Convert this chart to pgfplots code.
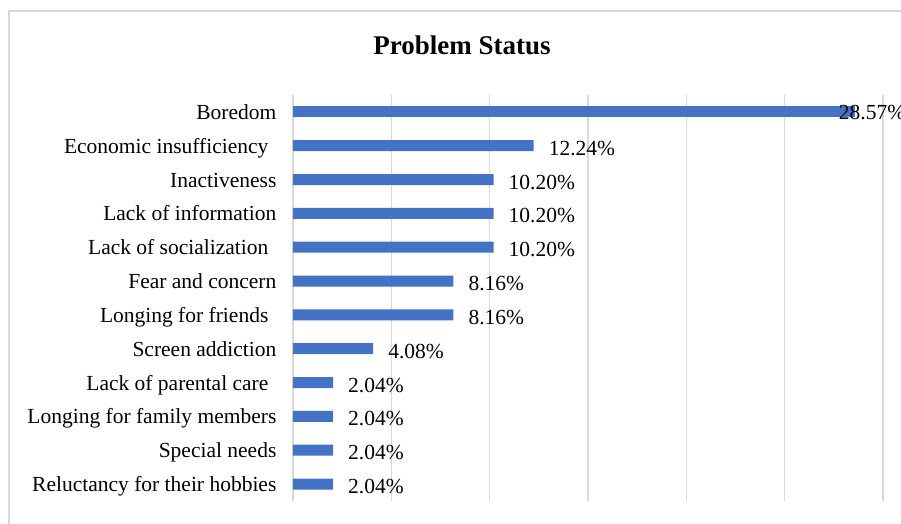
\documentclass[border=0pt]{standalone}
\usepackage{pgfplots}
\pgfplotsset{compat=1.18}
\usepackage{pgfplotstable}
\usepackage{fontspec}
\setmainfont{Liberation Serif}
\definecolor{barblue}{HTML}{4472C4}
\definecolor{gridgray}{HTML}{D9D9D9}
\pgfplotstableread{
x y lab
12.24 1 12.24\%
10.20 2 10.20\%
10.20 3 10.20\%
10.20 4 10.20\%
8.16 5 8.16\%
8.16 6 8.16\%
4.08 7 4.08\%
2.04 8 2.04\%
2.04 9 2.04\%
2.04 10 2.04\%
2.04 11 2.04\%
}\restdata
\pgfplotstableread{
x y lab
28.57 0 28.57\%
}\topdata
\newcommand{\tsp}{\hspace*{4pt}\hbox{}}
\begin{document}
\begin{tikzpicture}[x=0.5pt,y=0.5pt]
\useasboundingbox (0,0) rectangle (901,524);
\draw[gridgray, line width=0.75pt] (9,0) -- (9,513) -- (901,513);
\node[font=\bfseries\fontsize{13.5}{16}\selectfont] at (462,479) {Problem Status};
\begin{axis}[
  at={(146.5pt,11.5pt)}, anchor=south west,
  scale only axis, width=295pt, height=203pt,
  xbar, bar width=5.5pt, bar shift=0pt,
  xmin=0, xmax=30, ymin=-0.5, ymax=11.5, y dir=reverse,
  axis line style={draw=none}, tick style={draw=none},
  xmajorgrids, grid style={gridgray, line width=0.75pt},
  xtick={0,5,...,30}, xticklabels={},
  ytick={0,...,11},
  yticklabels={Boredom, Economic insufficiency\tsp, Inactiveness, Lack of information, Lack of socialization\tsp, Fear and concern, Longing for friends\tsp, Screen addiction, Lack of parental care\tsp, Longing for family members, Special needs, Reluctancy for their hobbies},
  y tick label style={font=\fontsize{10.75}{12}\selectfont, xshift=-0.5pt, yshift=-1pt, text height=7.5pt, text depth=2pt, anchor=east},
  nodes near coords, point meta=explicit symbolic,
  every node near coord/.append style={font=\fontsize{10.75}{12}\selectfont, text=black, text height=7.5pt, text depth=2pt},
]
\addplot[fill=barblue, draw=none, nodes near coords style={anchor=west, xshift=4pt, yshift=-2pt}] table[x=x, y=y, meta=lab] {\restdata};
\addplot[fill=barblue, draw=none, nodes near coords style={anchor=west, xshift=-11.5pt, yshift=-1pt}] table[x=x, y=y, meta=lab] {\topdata};
\end{axis}
\end{tikzpicture}
\end{document}
